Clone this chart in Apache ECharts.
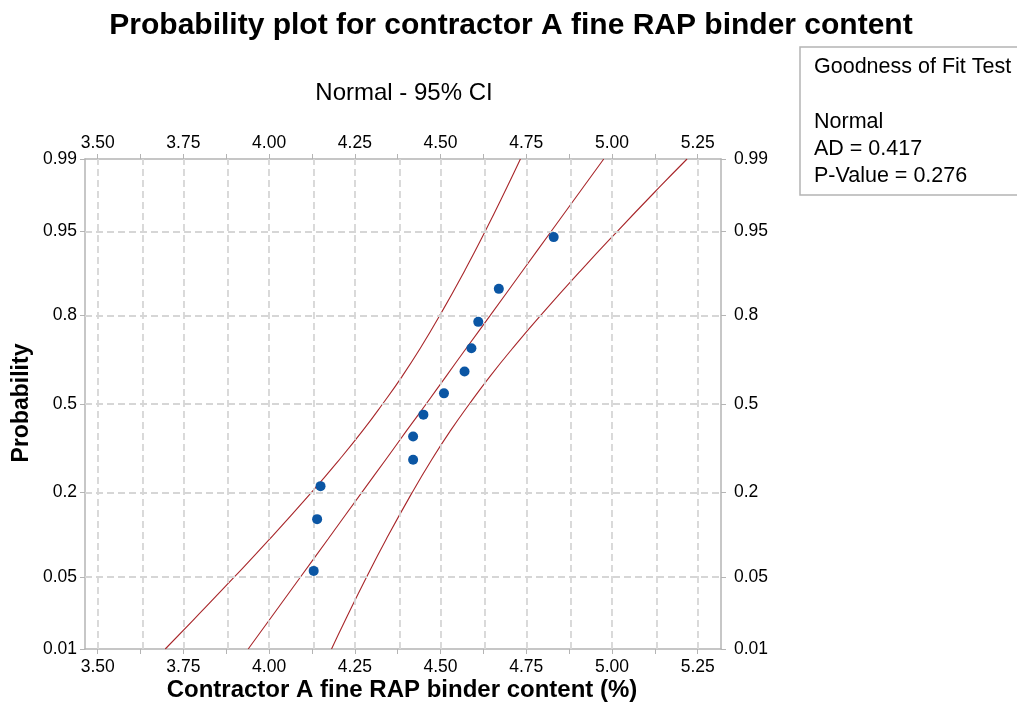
<!DOCTYPE html>
<html><head><meta charset="utf-8">
<script src="https://cdn.jsdelivr.net/npm/echarts@6/dist/echarts.min.js"></script>
<style>html,body{margin:0;padding:0;background:#fff}#c{width:1017px;height:713px}</style>
</head><body><div id="c"></div>
<script>
// ---- data ----
const binderContent = [4.13, 4.14, 4.15, 4.42, 4.42, 4.45, 4.51, 4.57, 4.59, 4.61, 4.67, 4.83];
const plotProb = [0.0565, 0.1371, 0.2177, 0.2984, 0.3790, 0.4597, 0.5403, 0.6210, 0.7016, 0.7823, 0.8629, 0.9435];
const curveProb = [0.01, 0.02, 0.05, 0.10, 0.20, 0.30, 0.40, 0.50, 0.60, 0.70, 0.80, 0.90, 0.95, 0.98, 0.99];
const fitX     = [3.939, 4.000, 4.091, 4.172, 4.270, 4.341, 4.401, 4.458, 4.514, 4.574, 4.645, 4.743, 4.824, 4.915, 4.976];
const ciLeftX  = [3.697, 3.778, 3.898, 4.002, 4.123, 4.206, 4.273, 4.331, 4.386, 4.440, 4.498, 4.573, 4.631, 4.693, 4.733];
const ciRightX = [4.182, 4.222, 4.284, 4.342, 4.417, 4.475, 4.529, 4.584, 4.642, 4.709, 4.792, 4.913, 5.017, 5.137, 5.219];
const xTickLabels = [3.50, 3.75, 4.00, 4.25, 4.50, 4.75, 5.00, 5.25];
const xGridValues = [3.5, 3.625, 3.75, 3.875, 4.0, 4.125, 4.25, 4.375, 4.5, 4.625, 4.75, 4.875, 5.0, 5.125, 5.25];
const yTickProbs = [0.01, 0.05, 0.2, 0.5, 0.8, 0.95, 0.99];
const yTickLabels = ['0.01', '0.05', '0.2', '0.5', '0.8', '0.95', '0.99'];
const xRange = [3.463, 5.318];
const yProbRange = [0.01, 0.99];

// inverse standard normal CDF (probability-scale transform)
function invNorm(p) {
  const a = [-3.969683028665376e+01, 2.209460984245205e+02, -2.759285104469687e+02, 1.383577518672690e+02, -3.066479806614716e+01, 2.506628277459239e+00];
  const b = [-5.447609879822406e+01, 1.615858368580409e+02, -1.556989798598866e+02, 6.680131188771972e+01, -1.328068155288572e+01];
  const c = [-7.784894002430293e-03, -3.223964580411365e-01, -2.400758277161838e+00, -2.549732539343734e+00, 4.374664141464968e+00, 2.938163982698783e+00];
  const d = [7.784695709041462e-03, 3.224671290700398e-01, 2.445134137142996e+00, 3.754408661907416e+00];
  const pl = 0.02425, ph = 1 - pl;
  let q, r;
  if (p < pl) { q = Math.sqrt(-2 * Math.log(p)); return (((((c[0]*q+c[1])*q+c[2])*q+c[3])*q+c[4])*q+c[5]) / ((((d[0]*q+d[1])*q+d[2])*q+d[3])*q+1); }
  if (p <= ph) { q = p - 0.5; r = q*q; return (((((a[0]*r+a[1])*r+a[2])*r+a[3])*r+a[4])*r+a[5])*q / (((((b[0]*r+b[1])*r+b[2])*r+b[3])*r+b[4])*r+1); }
  q = Math.sqrt(-2 * Math.log(1 - p)); return -(((((c[0]*q+c[1])*q+c[2])*q+c[3])*q+c[4])*q+c[5]) / ((((d[0]*q+d[1])*q+d[2])*q+d[3])*q+1);
}

const yTickZ = yTickProbs.map(invNorm);
const yMin = invNorm(yProbRange[0]), yMax = invNorm(yProbRange[1]);
const curveZ = curveProb.map(invNorm);
const pts = binderContent.map((x, i) => [x, invNorm(plotProb[i])]);
const fitLine = fitX.map((x, i) => [x, curveZ[i]]);
const ciLeft = ciLeftX.map((x, i) => [x, curveZ[i]]);
const ciRight = ciRightX.map((x, i) => [x, curveZ[i]]);

const FONT = '"Liberation Sans", Arial, sans-serif';
const FRAME = '#b4b4b4';
const GRID = '#d6d6d6';
const RED = '#a8262a';

function yLabel(v) {
  let best = 0;
  yTickZ.forEach((z, i) => { if (Math.abs(z - v) < Math.abs(yTickZ[best] - v)) best = i; });
  return yTickLabels[best];
}

const xAxisBase = {
  type: 'value', min: xRange[0], max: xRange[1],
  axisLine: { show: true, onZero: false, lineStyle: { color: FRAME, width: 1.5 } },
  axisTick: { show: true, length: 5, lineStyle: { color: FRAME, width: 1 }, customValues: xGridValues },
  axisLabel: { customValues: xTickLabels, formatter: v => v.toFixed(2), color: '#000', fontSize: 17.5, fontFamily: FONT, margin: 9 },
  splitLine: { show: false }
};
const yAxisBase = {
  type: 'value', min: yMin, max: yMax,
  axisLine: { show: true, onZero: false, lineStyle: { color: FRAME, width: 1.5 } },
  axisTick: { show: true, length: 5, lineStyle: { color: FRAME, width: 1 }, customValues: yTickZ },
  axisLabel: { customValues: yTickZ, formatter: yLabel, color: '#000', fontSize: 17.5, fontFamily: FONT, margin: 8 },
  splitLine: { show: false }
};

const chart = echarts.init(document.getElementById('c'), null, { renderer: 'canvas' });
chart.setOption({
  animation: false,
  backgroundColor: '#fff',
  grid: { left: 85, right: 296, top: 159, bottom: 64, containLabel: false },
  xAxis: [
    Object.assign({}, xAxisBase, { position: 'bottom' }),
    Object.assign({}, xAxisBase, { position: 'top', axisLabel: Object.assign({}, xAxisBase.axisLabel, { margin: 7 }) })
  ],
  yAxis: [
    Object.assign({}, yAxisBase, { position: 'left' }),
    Object.assign({}, yAxisBase, { position: 'right', axisLabel: Object.assign({}, yAxisBase.axisLabel, { margin: 13 }) })
  ],
  series: [
    {
      type: 'line', data: [], z: 1, silent: true,
      markLine: {
        silent: true, symbol: ['none', 'none'], label: { show: false },
        lineStyle: { color: GRID, width: 1.8, type: [7, 4] },
        data: xGridValues.map(v => ({ xAxis: v })).concat(yTickZ.map(z => ({ yAxis: z })))
      }
    },
    { type: 'line', data: ciLeft, smooth: true, showSymbol: false, symbol: 'none', z: 3, lineStyle: { color: RED, width: 1.1 } },
    { type: 'line', data: fitLine, smooth: true, showSymbol: false, symbol: 'none', z: 3, lineStyle: { color: RED, width: 1.1 } },
    { type: 'line', data: ciRight, smooth: true, showSymbol: false, symbol: 'none', z: 3, lineStyle: { color: RED, width: 1.1 } },
    { type: 'scatter', data: pts, symbol: 'circle', symbolSize: 10, z: 5, itemStyle: { color: '#0b56a4', opacity: 1 } }
  ],
  graphic: [
    { type: 'text', x: 511, y: 26, style: { text: 'Probability plot for contractor A fine RAP binder content', font: 'bold 30px ' + FONT, fill: '#000', textAlign: 'center', textVerticalAlign: 'middle' } },
    { type: 'text', x: 404, y: 93, style: { text: 'Normal - 95% CI', font: '24px ' + FONT, fill: '#000', textAlign: 'center', textVerticalAlign: 'middle' } },
    { type: 'text', x: 402, y: 690, style: { text: 'Contractor A fine RAP binder content (%)', font: 'bold 24px ' + FONT, fill: '#000', textAlign: 'center', textVerticalAlign: 'middle' } },
    { type: 'text', x: 22, y: 403, rotation: Math.PI / 2, style: { text: 'Probability', font: 'bold 23px ' + FONT, fill: '#000', textAlign: 'center', textVerticalAlign: 'middle' } },
    { type: 'rect', shape: { x: 800, y: 47, width: 240, height: 148 }, style: { fill: '#fff', stroke: FRAME, lineWidth: 1.5 } },
    { type: 'text', x: 814, y: 67, style: { text: 'Goodness of Fit Test', font: '21.5px ' + FONT, fill: '#000', textVerticalAlign: 'middle' } },
    { type: 'text', x: 814, y: 122, style: { text: 'Normal', font: '21.5px ' + FONT, fill: '#000', textVerticalAlign: 'middle' } },
    { type: 'text', x: 814, y: 149, style: { text: 'AD = 0.417', font: '21.5px ' + FONT, fill: '#000', textVerticalAlign: 'middle' } },
    { type: 'text', x: 814, y: 176, style: { text: 'P-Value = 0.276', font: '21.5px ' + FONT, fill: '#000', textVerticalAlign: 'middle' } }
  ]
});
</script>
</body></html>
